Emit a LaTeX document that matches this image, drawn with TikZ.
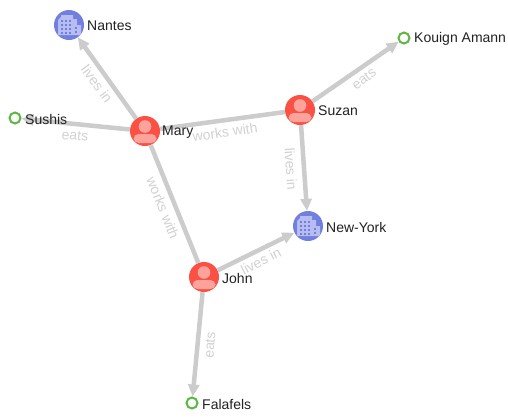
\documentclass[tikz,border=0pt]{standalone}
\usepackage{fontspec}
\setmainfont{Liberation Sans}
\usetikzlibrary{arrows.meta}
\definecolor{edgegray}{HTML}{CCCCCC}
\definecolor{personred}{HTML}{FB5044}
\definecolor{personlight}{HTML}{FDA39C}
\definecolor{cityblue}{HTML}{717FDF}
\definecolor{citylight}{HTML}{B7BDF1}
\definecolor{foodgreen}{HTML}{5DB740}
\definecolor{labelgray}{HTML}{D2D2D2}
\definecolor{nametext}{HTML}{222222}
\tikzset{
  personnode/.style={circle,fill=personred,minimum size=30pt,inner sep=0pt},
  citynode/.style={circle,fill=cityblue,minimum size=30pt,inner sep=0pt},
  foodnode/.style={circle,draw=foodgreen,line width=2pt,fill=white,minimum size=11pt,inner sep=0pt},
  nametag/.style={anchor=west,text=nametext,font=\fontsize{14}{16}\selectfont,inner sep=0pt},
  plainlink/.style={draw=edgegray,line width=4.5pt},
  link/.style={plainlink,-{Triangle[length=12pt,width=11pt]}},
  edgelabel/.style={text=labelgray,font=\fontsize{14}{16}\selectfont,inner sep=0pt},
}
\newcommand{\personicon}[1]{%
  \begin{scope}[shift={(#1)}]
    \clip (0,0) circle (15);
    \fill[personlight] (0,-4.5) circle (6.3);
    \fill[personlight,rounded corners=5pt] (-11.5,12) -- (-11.5,3) -- (11.5,3) -- (11.5,12) -- cycle;
  \end{scope}}
\newcommand{\cityicon}[1]{%
  \begin{scope}[shift={(#1)}]
    \clip (0,0) circle (15);
    \fill[citylight] (-11,-5) -- (-8,-8) -- (-8,-10) -- (4,-10) -- (4,-6) -- (8,-6) -- (8,0) -- (12,0) -- (12,10) -- (-11,10) -- cycle;
    \foreach \px in {-8,-4,0}
      \foreach \py in {-5,-1,3,7}
        \fill[cityblue] (\px,\py) rectangle +(2,2);
    \foreach \py in {2,6}
      \fill[cityblue] (5.5,\py) rectangle +(2,2);
  \end{scope}}
\begin{document}
\begin{tikzpicture}[x=1pt,y=-1pt]
\useasboundingbox (0,0) rectangle (508,418);
\fill[white] (0,0) rectangle (508,418);
\node[personnode] (mary) at (145,131) {};
\node[personnode] (suzan) at (300,110) {};
\node[personnode] (john) at (204,277) {};
\node[citynode] (nantes) at (69,25) {};
\node[citynode] (newyork) at (308,226) {};
\node[foodnode] (kouign) at (404,38) {};
\node[foodnode] (sushis) at (15,118) {};
\node[foodnode] (falafels) at (192,403) {};
\draw[link] (mary) -- (nantes);
\draw[link] (mary) -- (sushis);
\draw[plainlink] (mary) -- (suzan);
\draw[plainlink] (mary) -- (john);
\draw[link] (suzan) -- (kouign);
\draw[link] (suzan) -- (newyork);
\draw[link] (john) -- (newyork);
\draw[link] (john) -- (falafels);
\personicon{mary}
\personicon{suzan}
\personicon{john}
\cityicon{nantes}
\cityicon{newyork}
\node[nametag] (tnantes) at (87,26) {Nantes};
\node[nametag] (tmary) at (162,132) {Mary};
\node[nametag] (tsuzan) at (318,111) {Suzan};
\node[nametag] (tjohn) at (222,278) {John};
\node[nametag] (tnewyork) at (326,227) {New-York};
\node[nametag] (tkouign) at (414,39) {Kouign Amann};
\node[nametag] (tsushis) at (25,119) {Sushis};
\node[nametag] (tfalafels) at (202,404) {Falafels};
\node[edgelabel,rotate=-54] (l1) at (97,84) {lives in};
\node[edgelabel,rotate=-5] (l2) at (75,136) {eats};
\node[edgelabel,rotate=8] (l3) at (225,132) {works with};
\node[edgelabel,rotate=-68] (l5) at (163,208) {works with};
\node[edgelabel,rotate=38] (l6) at (364,79) {eats};
\node[edgelabel,rotate=-86] (l7) at (291,169) {lives in};
\node[edgelabel,rotate=27] (l8) at (261,261) {lives in};
\node[edgelabel,rotate=85] (l9) at (210,345) {eats};
\end{tikzpicture}
\end{document}
